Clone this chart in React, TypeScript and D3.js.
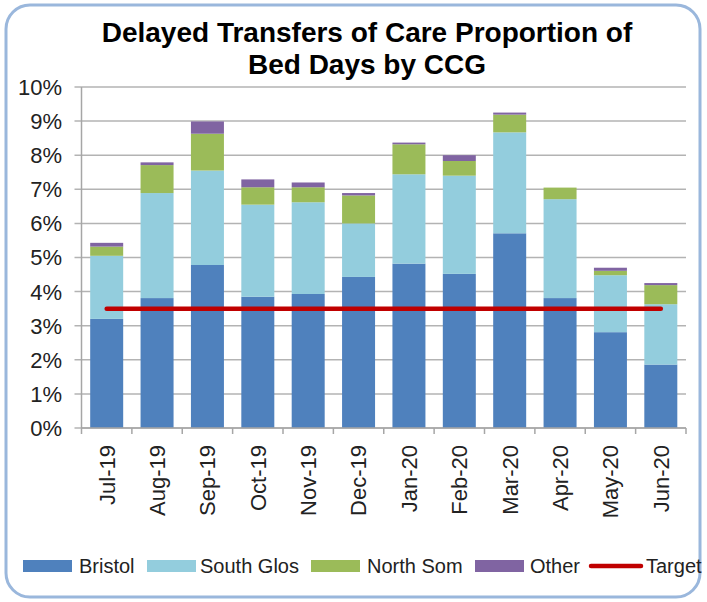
import * as d3 from "d3";
import { useEffect, useRef } from "react";

const months = ["Jul-19", "Aug-19", "Sep-19", "Oct-19", "Nov-19", "Dec-19", "Jan-20", "Feb-20", "Mar-20", "Apr-20", "May-20", "Jun-20"];
const bristol = [3.2, 3.81, 4.78, 3.85, 3.93, 4.43, 4.82, 4.52, 5.71, 3.81, 2.81, 1.86];
const southGlos = [1.85, 3.08, 2.77, 2.7, 2.69, 1.57, 2.62, 2.88, 2.96, 2.9, 1.67, 1.77];
const northSom = [0.27, 0.82, 1.08, 0.51, 0.44, 0.82, 0.88, 0.43, 0.52, 0.34, 0.13, 0.56];
const other = [0.11, 0.08, 0.36, 0.23, 0.14, 0.07, 0.05, 0.17, 0.06, 0.0, 0.09, 0.06];
const target = [3.5, 3.5, 3.5, 3.5, 3.5, 3.5, 3.5, 3.5, 3.5, 3.5, 3.5, 3.5];

const seriesNames = ["Bristol", "South Glos", "North Som", "Other"];
const seriesColors = ["#4F81BD", "#93CDDD", "#9BBB59", "#8064A2"];
const yTicks = [0, 1, 2, 3, 4, 5, 6, 7, 8, 9, 10];

const FONT = "'Liberation Sans', Arial, sans-serif";

export default function App() {
    const ref = useRef<SVGSVGElement | null>(null);

    useEffect(() => {
        if (!ref.current) return;
        const svg = d3.select(ref.current);
        svg.selectAll("*").remove();

        const width = 707;
        const height = 602;
        const plot = { left: 81.5, right: 686, top: 87, bottom: 428 };

        svg.append("rect")
            .attr("width", width)
            .attr("height", height)
            .attr("fill", "#fff");

        // outer rounded frame
        svg.append("rect")
            .attr("x", 6)
            .attr("y", 5)
            .attr("width", 694)
            .attr("height", 592)
            .attr("rx", 24)
            .attr("fill", "none")
            .attr("stroke", "#9AB7DC")
            .attr("stroke-width", 3);

        const table = months.map((m, i) => ({
            month: m,
            "Bristol": bristol[i],
            "South Glos": southGlos[i],
            "North Som": northSom[i],
            "Other": other[i],
        }));

        const x = d3
            .scaleBand<string>()
            .domain(months)
            .range([plot.left, plot.right])
            .paddingInner(0.345)
            .paddingOuter(0.1725);
        const y = d3.scaleLinear().domain([0, 10]).range([plot.bottom, plot.top]);
        const color = d3.scaleOrdinal<string>().domain(seriesNames).range(seriesColors);

        // gridlines
        svg.append("g")
            .selectAll("line")
            .data(yTicks)
            .join("line")
            .attr("x1", plot.left - 7)
            .attr("x2", plot.right)
            .attr("y1", (d) => y(d))
            .attr("y2", (d) => y(d))
            .attr("stroke", "#B3B3B3")
            .attr("stroke-width", 1.5);

        // y labels
        svg.append("g")
            .selectAll("text")
            .data(yTicks)
            .join("text")
            .attr("x", 62)
            .attr("y", (d) => y(d))
            .attr("dy", "0.36em")
            .attr("text-anchor", "end")
            .attr("font-family", FONT)
            .attr("font-size", 22)
            .attr("fill", "#222")
            .text((d) => `${d}%`);

        // bars
        const stacked = d3.stack<any>().keys(seriesNames)(table);
        svg.append("g")
            .selectAll("g")
            .data(stacked)
            .join("g")
            .attr("fill", (d) => color(d.key))
            .selectAll("rect")
            .data((d) => d)
            .join("rect")
            .attr("x", (d) => x(d.data.month)!)
            .attr("width", x.bandwidth())
            .attr("y", (d) => y(d[1]))
            .attr("height", (d) => y(d[0]) - y(d[1]));

        // axes
        svg.append("line")
            .attr("x1", plot.left)
            .attr("x2", plot.left)
            .attr("y1", plot.top)
            .attr("y2", plot.bottom)
            .attr("stroke", "#A6A6A6")
            .attr("stroke-width", 1.5);
        svg.append("line")
            .attr("x1", plot.left)
            .attr("x2", plot.right)
            .attr("y1", plot.bottom)
            .attr("y2", plot.bottom)
            .attr("stroke", "#A6A6A6")
            .attr("stroke-width", 1.5);
        const step = x.step();
        const tickXs = months.map((m) => x(m)! - (step - x.bandwidth()) / 2).concat([plot.right]);
        svg.append("g")
            .selectAll("line")
            .data(tickXs)
            .join("line")
            .attr("x1", (d) => d)
            .attr("x2", (d) => d)
            .attr("y1", plot.bottom)
            .attr("y2", plot.bottom + 6)
            .attr("stroke", "#A6A6A6")
            .attr("stroke-width", 1.5);

        // x labels
        svg.append("g")
            .selectAll("text")
            .data(months)
            .join("text")
            .attr("transform", (d) => `translate(${x(d)! + x.bandwidth() / 2},445) rotate(-90)`)
            .attr("dy", "0.36em")
            .attr("text-anchor", "end")
            .attr("font-family", FONT)
            .attr("font-size", 22)
            .attr("fill", "#222")
            .text((d) => d);

        // target line
        const line = d3
            .line<number>()
            .x((_, i) => x(months[i])! + x.bandwidth() / 2)
            .y((d) => y(d));
        svg.append("path")
            .datum(target)
            .attr("d", line)
            .attr("fill", "none")
            .attr("stroke", "#C00000")
            .attr("stroke-width", 4.5)
            .attr("stroke-linecap", "round");

        // title
        const title = svg.append("text")
            .attr("x", 367)
            .attr("text-anchor", "middle")
            .attr("font-family", FONT)
            .attr("font-size", 28)
            .attr("font-weight", "bold")
            .attr("fill", "#000");
        title.append("tspan").attr("x", 367).attr("y", 42).text("Delayed Transfers of Care Proportion of");
        title.append("tspan").attr("x", 367).attr("y", 74).text("Bed Days by CCG");

        // legend: symbol start and text start for each entry
        const legendItems = [
            { name: "Bristol", kind: "bar", sx: 23, tx: 79 },
            { name: "South Glos", kind: "bar", sx: 147, tx: 200 },
            { name: "North Som", kind: "bar", sx: 311, tx: 367 },
            { name: "Other", kind: "bar", sx: 475, tx: 530 },
            { name: "Target", kind: "line", sx: 589, tx: 646 },
        ];
        const legend = svg.append("g").attr("transform", "translate(0,566)");
        legendItems.forEach((it) => {
            if (it.kind === "bar") {
                legend.append("rect")
                    .attr("x", it.sx)
                    .attr("y", -6)
                    .attr("width", 49)
                    .attr("height", 12)
                    .attr("fill", color(it.name));
            } else {
                legend.append("line")
                    .attr("x1", it.sx + 2)
                    .attr("x2", it.sx + 52)
                    .attr("y1", 0)
                    .attr("y2", 0)
                    .attr("stroke", "#C00000")
                    .attr("stroke-width", 4.5)
                    .attr("stroke-linecap", "round");
            }
            legend.append("text")
                .attr("x", it.tx)
                .attr("y", 0)
                .attr("dy", "0.36em")
                .attr("font-family", FONT)
                .attr("font-size", 20)
                .attr("fill", "#222")
                .text(it.name);
        });
    }, []);

    return (
        <svg
            ref={ref}
            width={707}
            height={602}
            style={{ position: "absolute", left: 0, top: 0 }}
        ></svg>
    );
}
